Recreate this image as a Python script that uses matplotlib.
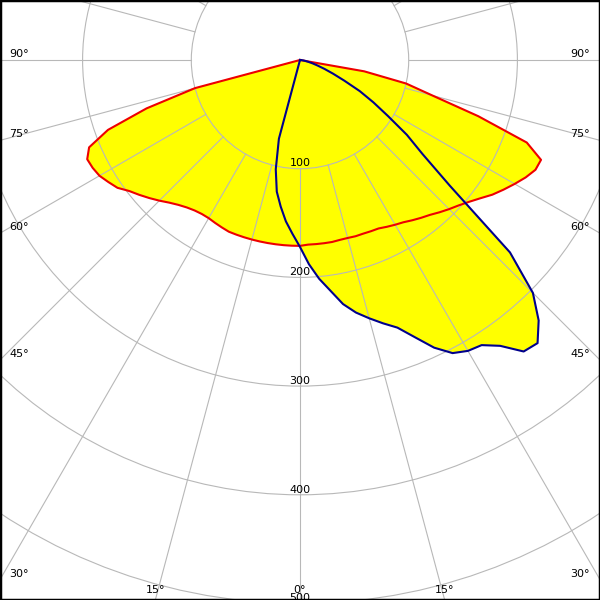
import numpy as np
import matplotlib.pyplot as plt
from matplotlib.patches import Circle

# gamma angles (deg), 0 = straight down, negative = left half
gamma = np.arange(-90, 90.1, 2.5)

# C0-C180 plane (red), cd/klm
red = [0, 0, 0, 0, 0, 0, 100, 148, 188, 210, 216, 215, 213, 209, 205, 198,
       193, 188, 183, 178, 174, 171, 169, 168, 168, 169, 170, 171, 171, 171,
       171, 171, 171, 171, 171, 171,
       171,
       170, 170, 170, 170, 169.5, 169.5, 170, 170, 170.5, 171, 173, 175, 177,
       180, 183, 186, 190, 194, 198, 203, 209, 216, 222, 228, 234, 239, 240,
       222, 172, 126, 100, 60, 0, 0, 0, 0]

# C90-C270 plane (blue)
blue = [0] * 30 + [75, 103, 123, 136, 149, 160,
        172,
        188, 202, 214, 228, 238, 246, 254, 262, 276, 292, 304, 309, 311, 321,
        338, 340, 325, 303, 262, 180, 142, 120, 96, 78, 62, 45, 33, 24, 17,
        12, 8, 5, 3, 1, 0, 0]

rings = [100, 200, 300, 400, 500]
spokes = np.arange(-180, 180, 15)
angle_labels = [90, 75, 60, 45, 30, 15, 0]

# pixel layout: centre at (300, 60) px, 108.7 px per 100 cd
s = 1.087
W, H, cy = 600, 600, 60

fig = plt.figure(figsize=(6, 6), dpi=100)
ax = fig.add_axes([0, 0, 1, 1])
ax.set_xlim(-300 / s, 300 / s)
ax.set_ylim(-(H - cy) / s, cy / s)
ax.set_aspect('equal')
ax.set_xticks([])
ax.set_yticks([])
for sp in ax.spines.values():
    sp.set_linewidth(2.5)
    sp.set_color('black')

g = np.radians(gamma)
for vals, col in [(red, '#ee0000'), (blue, '#00008c')]:
    I = np.array(vals, dtype=float)
    x = I * np.sin(g)
    y = -I * np.cos(g)
    ax.fill(x, y, color='#ffff00', lw=0, zorder=1)
    ax.plot(x, y, color=col, lw=1.5, zorder=3)

# grid
gc = '#b8b8b8'
for r in rings:
    ax.add_patch(Circle((0, 0), r, fill=False, ec=gc, lw=0.8, zorder=2))
for a in spokes:
    t = np.radians(a)
    ax.plot([100 * np.sin(t), 800 * np.sin(t)], [-100 * np.cos(t), -800 * np.cos(t)],
            color=gc, lw=0.8, zorder=2)

# intensity labels
for r in rings:
    ax.text(0, -r + 2.2 / s, str(r), ha='center', va='baseline', fontsize=8, zorder=4)

# angle labels where spokes leave the frame
for a in angle_labels:
    t = np.radians(a)
    if a > 0 and cy + 300 / np.tan(t) < H:
        yb = -(300 / np.tan(t)) / s + 3 / s
        ax.text(-291 / s, yb, '%d°' % a, ha='left', va='baseline', fontsize=8, zorder=4)
        ax.text(290 / s, yb, '%d°' % a, ha='right', va='baseline', fontsize=8, zorder=4)
    else:
        xh = (H - cy) * np.tan(t) / s
        yb = -(H - cy - 7) / s
        ax.text(-xh, yb, '%d°' % a, ha='center', va='baseline', fontsize=8, zorder=4)
        if a > 0:
            ax.text(xh, yb, '%d°' % a, ha='center', va='baseline', fontsize=8, zorder=4)

fig.savefig('out.png', dpi=100)
